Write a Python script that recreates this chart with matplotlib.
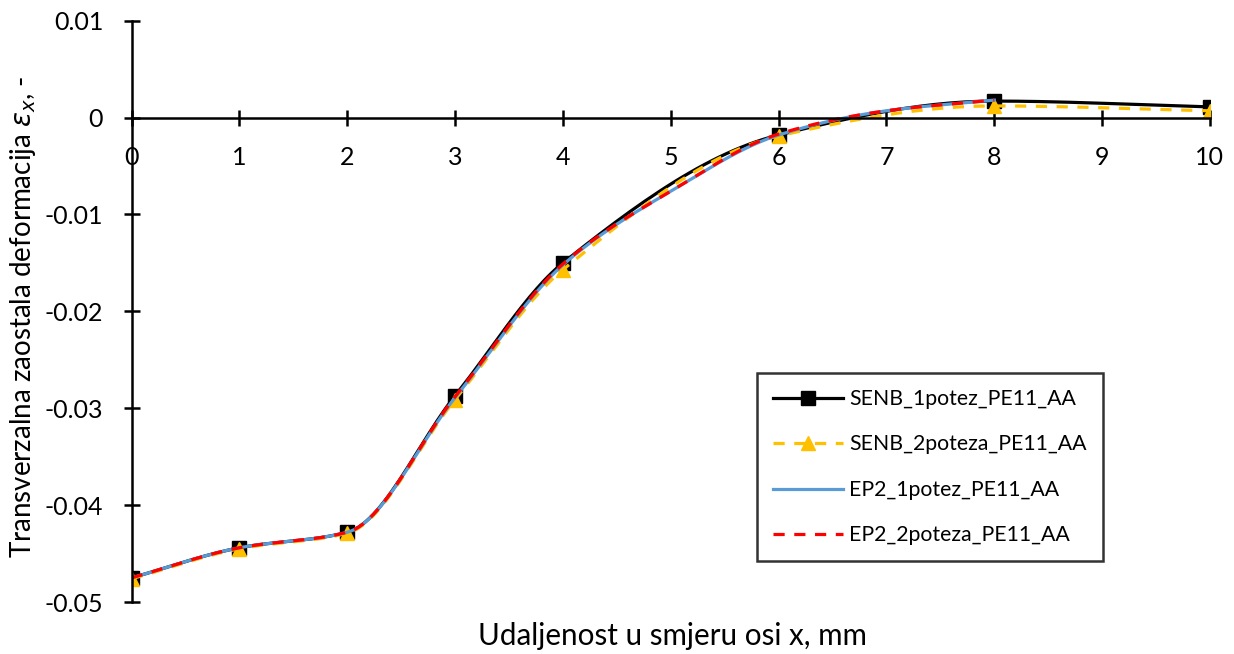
import numpy as np
import matplotlib
matplotlib.use("Agg")
import matplotlib.pyplot as plt

plt.rcParams["font.family"] = ["Lato", "DejaVu Sans"]
plt.rcParams["axes.unicode_minus"] = False

# SENB series (markers at measured points)
x_senb = [0, 1, 2, 3, 4, 6, 8, 10]
senb_1potez = [-0.0475, -0.0444, -0.0428, -0.0287, -0.0150, -0.0018, 0.0017, 0.0011]
senb_2poteza = [-0.0476, -0.0445, -0.0429, -0.0291, -0.0157, -0.0019, 0.0012, 0.0007]

# EP2 series
x_ep2 = [0, 1, 2, 3, 4, 5, 6, 7, 8]
ep2_1potez = [-0.0475, -0.0444, -0.0428, -0.0289, -0.0152, -0.0076, -0.0018, 0.0007, 0.0018]
ep2_2poteza = [-0.0475, -0.0444, -0.0428, -0.0288, -0.0151, -0.0076, -0.0017, 0.0007, 0.0018]

labels = ["SENB_1potez_PE11_AA", "SENB_2poteza_PE11_AA", "EP2_1potez_PE11_AA", "EP2_2poteza_PE11_AA"]


def smooth(x, y, n=30):
    # monotone cubic (PCHIP-like) curve through the points
    x = np.asarray(x, float)
    y = np.asarray(y, float)
    h = np.diff(x)
    d = np.diff(y) / h
    m = np.zeros_like(y)
    m[0], m[-1] = d[0], d[-1]
    for i in range(1, len(y) - 1):
        if d[i - 1] * d[i] > 0:
            m[i] = 2 * d[i - 1] * d[i] / (d[i - 1] + d[i])
    xs, ys = [], []
    t = np.linspace(0, 1, n)
    for i in range(len(h)):
        h00 = 2 * t**3 - 3 * t**2 + 1
        h10 = t**3 - 2 * t**2 + t
        h01 = -2 * t**3 + 3 * t**2
        h11 = t**3 - t**2
        xs.extend(x[i] + t * h[i])
        ys.extend(h00 * y[i] + h10 * h[i] * m[i] + h01 * y[i + 1] + h11 * h[i] * m[i + 1])
    return xs, ys


fig = plt.figure(figsize=(12.34, 6.54), dpi=100)
ax = fig.add_axes([0.1067, 0.0795, 0.8738, 0.8889])

lw = 2.3
dash = (0, (3.5, 3))

sx, sy = smooth(x_senb, senb_1potez)
ax.plot(sx, sy, color="black", lw=lw)
ax.plot(x_senb, senb_1potez, ls="none", marker="s", ms=9.5, color="black")
h1, = ax.plot([], [], color="black", lw=lw, marker="s", ms=9.5)

sx, sy = smooth(x_senb, senb_2poteza)
ax.plot(sx, sy, color="#FFC000", lw=lw, ls=dash)
ax.plot(x_senb, senb_2poteza, ls="none", marker="^", ms=10, color="#FFC000")
h2, = ax.plot([], [], color="#FFC000", lw=lw, ls=dash, marker="^", ms=10)

sx, sy = smooth(x_ep2, ep2_1potez)
h3, = ax.plot(sx, sy, color="#5B9BD5", lw=lw)

sx, sy = smooth(x_ep2, ep2_2poteza)
h4, = ax.plot(sx, sy, color="#FF0000", lw=lw, ls=dash)

ax.set_xlim(0, 10)
ax.set_ylim(-0.05, 0.01)
ax.set_xticks(range(0, 11))
ax.set_yticks([0.01, 0, -0.01, -0.02, -0.03, -0.04, -0.05])
ax.set_yticklabels(["0.01", "0", "-0.01", "-0.02", "-0.03", "-0.04", "-0.05"])

ax.spines["left"].set_position(("data", 0))
ax.spines["bottom"].set_position(("data", 0))
ax.spines["top"].set_visible(False)
ax.spines["right"].set_visible(False)
for s in ("left", "bottom"):
    ax.spines[s].set_linewidth(1.8)
ax.tick_params(direction="inout", length=11, width=1.8, labelsize=18, pad=15)

fig.text(0.545, 0.0275, "Udaljenost u smjeru osi x, mm", ha="center", va="center", fontsize=21.3)
fig.text(0.019, 0.515, "Transverzalna zaostala deformacija $\\varepsilon_{x}$, -",
         ha="center", va="center", rotation=90, fontsize=20)

leg = ax.legend([h1, h2, h3, h4], labels, loc="upper left",
                bbox_to_anchor=(757 / 1234, 1 - 373 / 654), bbox_transform=fig.transFigure,
                borderaxespad=0, fontsize=15.3, frameon=True,
                fancybox=False, edgecolor="black", handlelength=3.3,
                labelspacing=1.2, borderpad=0.75, handletextpad=0.3)
leg.get_frame().set_linewidth(1.8)

fig.savefig("out.png", dpi=100)
